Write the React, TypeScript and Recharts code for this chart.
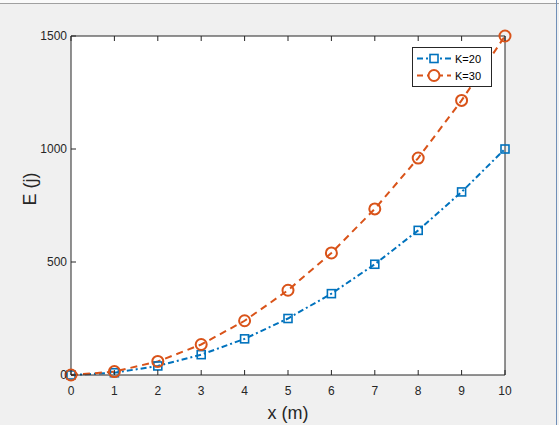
import { LineChart, Line, XAxis, YAxis, CartesianGrid, Legend } from "recharts";

const xValues = [0, 1, 2, 3, 4, 5, 6, 7, 8, 9, 10];
const energyK20 = [0, 10, 40, 90, 160, 250, 360, 490, 640, 810, 1000];
const energyK30 = [0, 15, 60, 135, 240, 375, 540, 735, 960, 1215, 1500];
const xTicks = [0, 1, 2, 3, 4, 5, 6, 7, 8, 9, 10];
const yTicks = [0, 500, 1000, 1500];

const BLUE = "#0072BD";
const ORANGE = "#D95319";
const AXIS = "#262626";
const FONT = "'Liberation Sans', Arial, sans-serif";

const data = xValues.map((x, i) => ({ x, k20: energyK20[i], k30: energyK30[i] }));

const BottomTick = (props: any) => {
  const { x, y, payload } = props;
  return (
    <g>
      <line x1={x} y1={y} x2={x} y2={y - 5} stroke={AXIS} />
      <text x={x} y={y + 20} textAnchor="middle" fill={AXIS} fontSize={12} fontFamily={FONT}>
        {payload.value}
      </text>
    </g>
  );
};

const TopTick = (props: any) => {
  const { x, y } = props;
  return <line x1={x} y1={y} x2={x} y2={y + 5} stroke={AXIS} />;
};

const LeftTick = (props: any) => {
  const { x, y, payload } = props;
  return (
    <g>
      <line x1={x} y1={y} x2={x + 5} y2={y} stroke={AXIS} />
      <text x={x - 4} y={y + 4} textAnchor="end" fill={AXIS} fontSize={12} fontFamily={FONT}>
        {payload.value}
      </text>
    </g>
  );
};

const RightTick = (props: any) => {
  const { x, y } = props;
  return <line x1={x} y1={y} x2={x - 5} y2={y} stroke={AXIS} />;
};

const SquareDot = (props: any) => {
  const { cx, cy } = props;
  if (cx == null || cy == null) return null;
  return <rect x={cx - 4} y={cy - 4} width={8} height={8} fill="none" stroke={BLUE} strokeWidth={1.6} />;
};

const CircleDot = (props: any) => {
  const { cx, cy } = props;
  if (cx == null || cy == null) return null;
  return <circle cx={cx} cy={cy} r={5.5} fill="none" stroke={ORANGE} strokeWidth={2} />;
};

const LegendBox = () => (
  <div
    style={{
      border: "1px solid #262626",
      background: "#fff",
      width: 78,
      padding: "2px 0",
      fontFamily: FONT,
      fontSize: 11,
      color: "#000",
    }}
  >
    {[
      { name: "K=20", color: BLUE, dash: "6 3 2 3", marker: "square" },
      { name: "K=30", color: ORANGE, dash: "6 4", marker: "circle" },
    ].map((item) => (
      <div key={item.name} style={{ display: "flex", alignItems: "center", height: 17 }}>
        <svg width={42} height={17}>
          <line x1={4} y1={8.5} x2={38} y2={8.5} stroke={item.color} strokeWidth={2} strokeDasharray={item.dash} />
          {item.marker === "square" ? (
            <rect x={17} y={4.5} width={8} height={8} fill="#fff" stroke={item.color} strokeWidth={1.6} />
          ) : (
            <circle cx={21} cy={8.5} r={5.5} fill="#fff" stroke={item.color} strokeWidth={2} />
          )}
        </svg>
        <span>{item.name}</span>
      </div>
    ))}
  </div>
);

export default function App() {
  return (
    <div
      style={{
        position: "absolute",
        left: 0,
        top: 0,
        width: 559,
        height: 425,
        background: "#f0f0f0",
        overflow: "hidden",
      }}
    >
      <div style={{ position: "absolute", left: 0, top: 0, width: 559, height: 3, background: "#fafafa", borderBottom: "1px solid #a0a0a0" }} />
      <div style={{ position: "absolute", left: 556, top: 0, width: 1, height: 425, background: "#6f8fb8" }} />
      <LineChart width={559} height={425} data={data} margin={{ top: 0, right: 0, bottom: 0, left: 0 }}>
        <CartesianGrid horizontal={false} vertical={false} fill="#ffffff" />
        <XAxis
          xAxisId="bottom"
          dataKey="x"
          type="number"
          domain={[0, 10]}
          ticks={xTicks}
          height={50}
          tickSize={0}
          tickMargin={0}
          tickLine={false}
          stroke={AXIS}
          tick={<BottomTick />}
          label={{ value: "x (m)", position: "insideBottom", offset: 6, fill: AXIS, fontSize: 18, fontFamily: FONT }}
        />
        <XAxis
          xAxisId="top"
          orientation="top"
          dataKey="x"
          type="number"
          domain={[0, 10]}
          ticks={xTicks}
          height={36}
          tickSize={0}
          tickMargin={0}
          tickLine={false}
          stroke={AXIS}
          tick={<TopTick />}
        />
        <YAxis
          yAxisId="left"
          type="number"
          domain={[0, 1500]}
          ticks={yTicks}
          width={71}
          tickSize={0}
          tickMargin={0}
          tickLine={false}
          stroke={AXIS}
          tick={<LeftTick />}
          label={{ value: "E (j)", angle: -90, position: "insideLeft", offset: 30, fill: AXIS, fontSize: 18, fontFamily: FONT }}
        />
        <YAxis
          yAxisId="right"
          orientation="right"
          type="number"
          domain={[0, 1500]}
          ticks={yTicks}
          width={54}
          tickSize={0}
          tickMargin={0}
          tickLine={false}
          stroke={AXIS}
          tick={<RightTick />}
        />
        <Legend
          layout="vertical"
          verticalAlign="middle"
          align="center"
          content={<LegendBox />}
          wrapperStyle={{ left: 412, top: 47, width: 80 }}
        />
        <Line
          xAxisId="bottom"
          yAxisId="left"
          dataKey="k20"
          name="K=20"
          stroke={BLUE}
          strokeWidth={2}
          strokeDasharray="6 3 2 3"
          dot={<SquareDot />}
          isAnimationActive={false}
        />
        <Line
          xAxisId="bottom"
          yAxisId="left"
          dataKey="k30"
          name="K=30"
          stroke={ORANGE}
          strokeWidth={2}
          strokeDasharray="7 5"
          dot={<CircleDot />}
          isAnimationActive={false}
        />
      </LineChart>
    </div>
  );
}
